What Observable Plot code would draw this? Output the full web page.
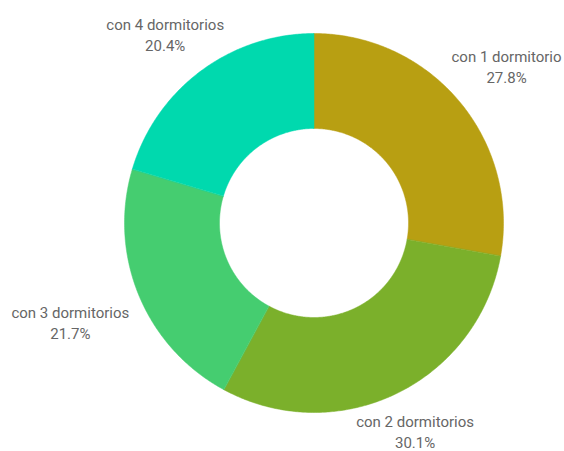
<!DOCTYPE html>
<html><head><meta charset="utf-8">
<script src="https://cdn.jsdelivr.net/npm/d3@7"></script>
<script src="https://cdn.jsdelivr.net/npm/@observablehq/plot@0.6"></script>
<style>body{margin:0;background:#fff;} #chart svg{display:block;}</style>
</head><body><div id="chart"></div>
<script>
const categories = ["con 1 dormitorio", "con 2 dormitorios", "con 3 dormitorios", "con 4 dormitorios"];
const shares = [27.8, 30.1, 21.7, 20.4];
const colors = ["#b89f12", "#7bb02b", "#45cd70", "#00d9ae"];

const W = 564, H = 451, cx = 313.5, cy = 222.5, R = 189.5, r = 94.5;
const total = d3.sum(shares);
let acc = 0;
const slices = categories.map((c, i) => {
  const a0 = acc / total * 2 * Math.PI;
  acc += shares[i];
  const a1 = acc / total * 2 * Math.PI;
  return {c, v: shares[i], a0, a1};
});
const ring = slices.flatMap(s => {
  const n = Math.max(2, Math.ceil((s.a1 - s.a0) / (Math.PI / 360)));
  const pts = [];
  for (let k = 0; k <= n; k++) {
    const a = s.a0 + (s.a1 - s.a0) * k / n;
    pts.push({c: s.c, x: R * Math.sin(a), y: R * Math.cos(a)});
  }
  for (let k = n; k >= 0; k--) {
    const a = s.a0 + (s.a1 - s.a0) * k / n;
    pts.push({c: s.c, x: r * Math.sin(a), y: r * Math.cos(a)});
  }
  return pts;
});
// label placement outside the ring, pushed out more horizontally for side labels
const labels = slices.map(s => {
  const m = (s.a0 + s.a1) / 2;
  const dx = Math.sin(m), dy = Math.cos(m);
  return {
    c: s.c,
    text: `${s.c}\n${s.v.toFixed(1)}%`,
    x: dx * (1.14 * R + 0.26 * R * Math.abs(dx)) - 2,
    y: dy * (1.47 * R - 0.28 * R * Math.abs(dy))
  };
});

const chart = Plot.plot({
  width: W, height: H, margin: 0,
  x: {domain: [-cx, W - cx], axis: null},
  y: {domain: [-(H - cy), cy], axis: null},
  color: {domain: categories, range: colors},
  marks: [
    Plot.line(ring, {x: "x", y: "y", z: "c", fill: "c", stroke: "c", strokeWidth: 0.5, curve: "linear-closed"}),
    Plot.text(labels, {x: "x", y: "y", text: "text", fill: "#666666", fontSize: 15, fontFamily: "Roboto", lineHeight: 1.4, textAnchor: "middle", lineAnchor: "middle"})
  ]
});
document.getElementById("chart").append(chart);
</script>
</body></html>
